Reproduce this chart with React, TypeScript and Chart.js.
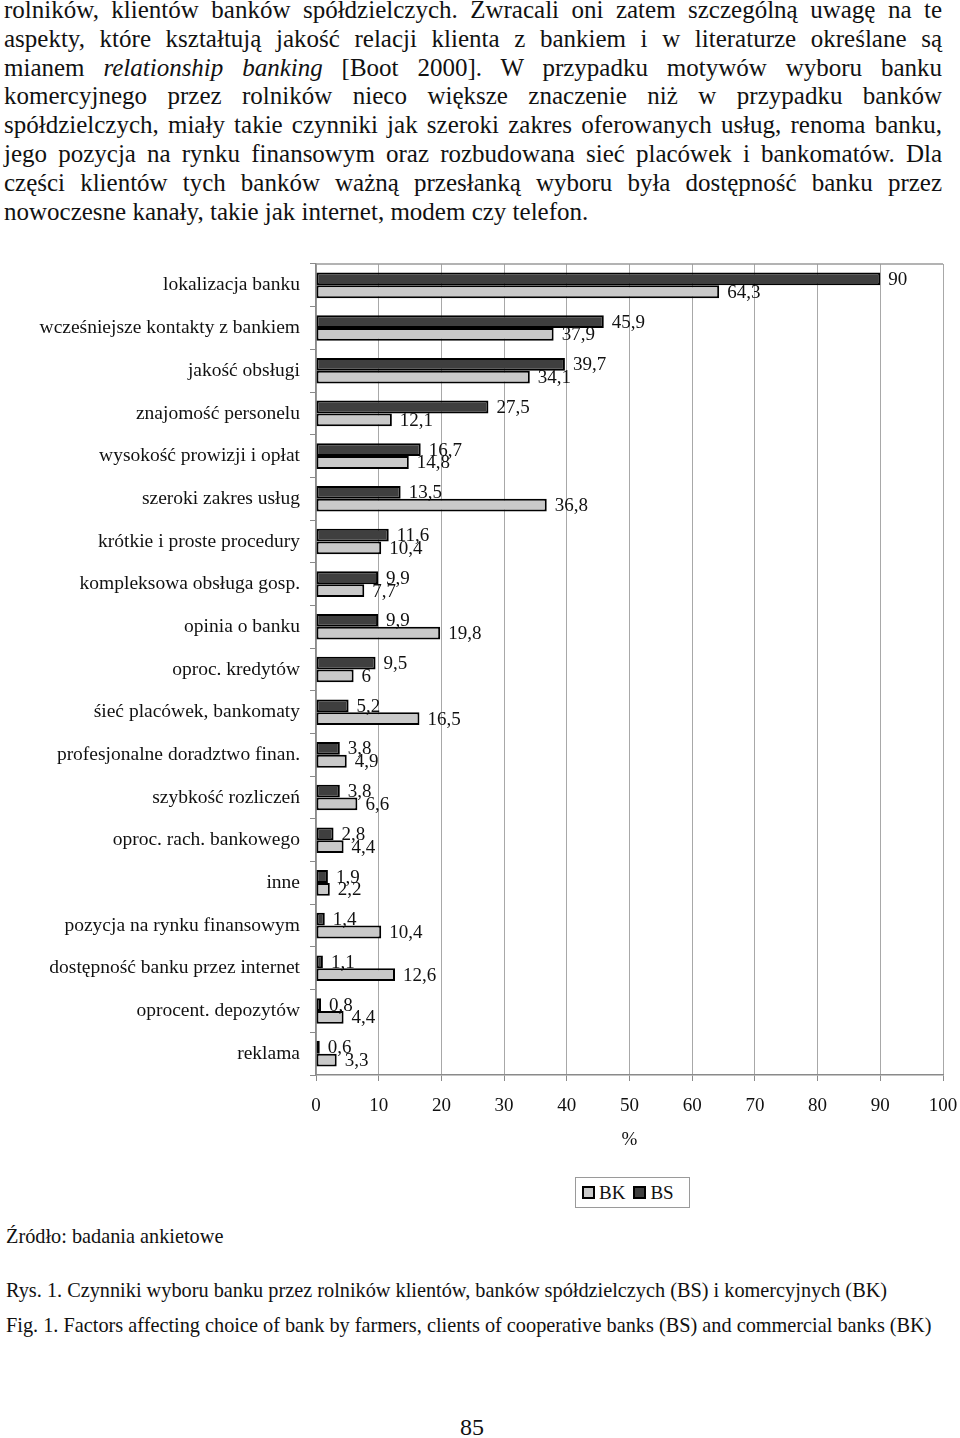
import React, { useEffect, useRef } from "react";
import { Chart, registerables } from "chart.js";

Chart.register(...registerables);

const categories = [
  "lokalizacja banku",
  "wcześniejsze kontakty z bankiem",
  "jakość obsługi",
  "znajomość personelu",
  "wysokość prowizji i opłat",
  "szeroki zakres usług",
  "krótkie i proste procedury",
  "kompleksowa obsługa gosp.",
  "opinia o banku",
  "oproc. kredytów",
  "śieć placówek, bankomaty",
  "profesjonalne doradztwo finan.",
  "szybkość rozliczeń",
  "oproc. rach. bankowego",
  "inne",
  "pozycja na rynku finansowym",
  "dostępność banku przez internet",
  "oprocent. depozytów",
  "reklama",
];

const bsValues = [90, 45.9, 39.7, 27.5, 16.7, 13.5, 11.6, 9.9, 9.9, 9.5, 5.2, 3.8, 3.8, 2.8, 1.9, 1.4, 1.1, 0.8, 0.6];
const bkValues = [64.3, 37.9, 34.1, 12.1, 14.8, 36.8, 10.4, 7.7, 19.8, 6, 16.5, 4.9, 6.6, 4.4, 2.2, 10.4, 12.6, 4.4, 3.3];

const seriesNames = ["BS", "BK"];
const axisMin = 0;
const axisMax = 100;
const axisStep = 10;
const axisTitle = "%";

const paragraphLines: React.ReactNode[] = [
  "rolników, klientów banków spółdzielczych. Zwracali oni zatem szczególną uwagę na te",
  "aspekty, które kształtują jakość relacji klienta z bankiem i w literaturze określane są",
  <>mianem <i>relationship banking</i> [Boot 2000]. W przypadku motywów wyboru banku</>,
  "komercyjnego przez rolników nieco większe znaczenie niż w przypadku banków",
  "spółdzielczych, miały takie czynniki jak szeroki zakres oferowanych usług, renoma banku,",
  "jego pozycja na rynku finansowym oraz rozbudowana sieć placówek i bankomatów. Dla",
  "części klientów tych banków ważną przesłanką wyboru była dostępność banku przez",
  "nowoczesne kanały, takie jak internet, modem czy telefon.",
];

const SERIF = "'Liberation Serif', 'Times New Roman', serif";
const DARK = "#3f3f3f";
const LIGHT = "#c9c9c9";

const valueLabels = {
  id: "valueLabels",
  afterDatasetsDraw(chart: any) {
    const ctx = chart.ctx;
    ctx.save();
    ctx.font = `19px ${SERIF}`;
    ctx.fillStyle = "#111";
    ctx.textAlign = "left";
    ctx.textBaseline = "middle";
    chart.data.datasets.forEach((ds: any, di: number) => {
      const meta = chart.getDatasetMeta(di);
      meta.data.forEach((el: any, i: number) => {
        const v = ds.data[i];
        ctx.fillText(String(v).replace(".", ","), el.x + 8, el.y + 1);
      });
    });
    ctx.restore();
  },
};

const frame = {
  id: "frame",
  afterDraw(chart: any) {
    const { ctx, chartArea } = chart;
    ctx.save();
    ctx.strokeStyle = "#9a9a9a";
    ctx.lineWidth = 1.5;
    ctx.beginPath();
    ctx.moveTo(chartArea.left, chartArea.top);
    ctx.lineTo(chartArea.right, chartArea.top);
    ctx.stroke();
    ctx.restore();
  },
};

function BarChart() {
  const ref = useRef<HTMLCanvasElement | null>(null);
  useEffect(() => {
    if (!ref.current) return;
    const chart = new Chart(ref.current, {
      type: "bar",
      data: {
        labels: categories,
        datasets: [
          {
            label: seriesNames[0],
            data: bsValues,
            backgroundColor: DARK,
            borderColor: "#000",
            borderWidth: 2,
            borderSkipped: false,
            categoryPercentage: 0.6,
            barPercentage: 1,
          },
          {
            label: seriesNames[1],
            data: bkValues,
            backgroundColor: LIGHT,
            borderColor: "#000",
            borderWidth: 2,
            borderSkipped: false,
            categoryPercentage: 0.6,
            barPercentage: 1,
          },
        ],
      },
      options: {
        indexAxis: "y",
        animation: false,
        responsive: false,
        maintainAspectRatio: false,
        layout: { padding: { top: 14, right: 17, left: 0, bottom: 0 } },
        plugins: {
          legend: { display: false },
          tooltip: { enabled: false },
        },
        scales: {
          x: {
            min: axisMin,
            max: axisMax,
            ticks: {
              stepSize: axisStep,
              color: "#111",
              font: { family: SERIF, size: 19 },
              padding: 14,
              maxRotation: 0,
            },
            grid: {
              color: "#a8a8a8",
              lineWidth: 1,
              tickLength: 6,
              tickColor: "#8a8a8a",
            },
            border: { display: true, color: "#8a8a8a", width: 1.5 },
            title: {
              display: true,
              text: axisTitle,
              color: "#111",
              font: { family: SERIF, size: 19 },
              padding: { top: 0, bottom: 9 },
            },
            afterFit(scale: any) {
              scale.height = 85;
              scale.paddingLeft = 0;
              scale.paddingRight = 0;
            },
          },
          y: {
            ticks: {
              color: "#111",
              font: { family: SERIF, size: 19.5 },
              padding: 10,
              autoSkip: false,
            },
            grid: {
              offset: true,
              drawOnChartArea: false,
              tickLength: 6,
              tickColor: "#8a8a8a",
            },
            border: { display: true, color: "#8a8a8a", width: 1.5 },
            afterFit(scale: any) {
              scale.width = 316;
              scale.paddingTop = 0;
              scale.paddingBottom = 0;
            },
          },
        },
      },
      plugins: [valueLabels, frame],
    } as any);
    return () => chart.destroy();
  }, []);
  return (
    <canvas
      ref={ref}
      width={960}
      height={910}
      style={{ position: "absolute", left: 0, top: 250, width: 960, height: 910 }}
    />
  );
}

export default function App() {
  const legendItem = (color: string, text: string) => (
    <div style={{ display: "flex", alignItems: "center", marginRight: 8 }}>
      <div
        style={{
          width: 9,
          height: 9,
          background: color,
          border: "2px solid #000",
          marginRight: 4,
        }}
      />
      <span>{text}</span>
    </div>
  );
  return (
    <div
      style={{
        position: "absolute",
        left: 0,
        top: 0,
        width: 960,
        height: 1438,
        background: "#fff",
        fontFamily: SERIF,
        color: "#111",
        overflow: "hidden",
      }}
    >
      {paragraphLines.map((line, i) => {
        const last = i === paragraphLines.length - 1;
        return (
          <div
            key={i}
            style={{
              position: "absolute",
              left: 4,
              top: -4 + i * 28.8,
              width: 938,
              fontSize: 25,
              lineHeight: "28.8px",
              whiteSpace: "nowrap",
              textAlign: last ? "left" : "justify",
              textAlignLast: last ? "left" : "justify",
            }}
          >
            {line}
          </div>
        );
      })}
      <BarChart />
      <div
        style={{
          position: "absolute",
          left: 575,
          top: 1177,
          width: 107,
          height: 29,
          border: "1px solid #9a9a9a",
          display: "flex",
          alignItems: "center",
          paddingLeft: 6,
          boxSizing: "content-box",
          fontSize: 19,
          lineHeight: 1,
        }}
      >
        {legendItem(LIGHT, seriesNames[1])}
        {legendItem(DARK, seriesNames[0])}
      </div>
      <div style={{ position: "absolute", left: 6, top: 1226, fontSize: 20.3, lineHeight: "20px", whiteSpace: "nowrap" }}>
        Źródło: badania ankietowe
      </div>
      <div style={{ position: "absolute", left: 6, top: 1280, fontSize: 20.3, lineHeight: "20px", whiteSpace: "nowrap" }}>
        Rys. 1. Czynniki wyboru banku przez rolników klientów, banków spółdzielczych (BS) i komercyjnych (BK)
      </div>
      <div style={{ position: "absolute", left: 6, top: 1315, fontSize: 20.3, lineHeight: "20px", whiteSpace: "nowrap" }}>
        Fig. 1. Factors affecting choice of bank by farmers, clients of cooperative banks (BS) and commercial banks (BK)
      </div>
      <div style={{ position: "absolute", left: 460, top: 1415, fontSize: 24, lineHeight: "24px" }}>85</div>
    </div>
  );
}
